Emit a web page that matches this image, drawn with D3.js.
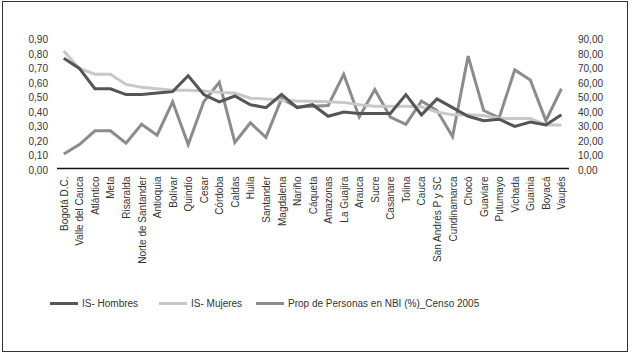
<!DOCTYPE html>
<html><head><meta charset="utf-8">
<script src="https://cdn.jsdelivr.net/npm/d3@7"></script>
<style>body{margin:0;background:#fff}svg{display:block;font-family:"Liberation Sans",Arial,sans-serif}</style>
</head><body><svg id="c" width="633" height="353"></svg>
<script>
const categories = ["Bogotá D.C.","Valle del Cauca","Atlántico","Meta","Risaralda","Norte de Santander","Antioquia","Bolívar","Quindío","Cesar","Córdoba","Caldas","Huila","Santander","Magdalena","Nariño","Cáqueta","Amazonas","La Guajira","Arauca","Sucre","Casanare","Tolina","Cauca","San Andrés P y SC","Cundinamarca","Chocó","Guaviare","Putumayo","Vichada","Guainia","Boyacá","Vaupés"];
const isHombres = [0.76,0.69,0.55,0.55,0.51,0.51,0.52,0.53,0.64,0.51,0.46,0.50,0.44,0.42,0.51,0.42,0.44,0.36,0.39,0.38,0.38,0.38,0.51,0.37,0.48,0.42,0.36,0.33,0.34,0.29,0.32,0.30,0.37];
const isMujeres = [0.81,0.69,0.65,0.65,0.58,0.56,0.55,0.54,0.54,0.535,0.525,0.52,0.485,0.48,0.47,0.465,0.463,0.46,0.456,0.44,0.43,0.43,0.43,0.426,0.39,0.37,0.37,0.365,0.345,0.345,0.345,0.30,0.30];
const nbi = [10,16.5,26,26,17.5,30.5,23,46,16.5,46,59.5,18,31.5,21.5,48,42.5,43,43.5,65,35.5,54.5,35.5,30.5,46.5,40,22,77.5,40,35,68,61,33,55];
const leftTicks = [0,0.1,0.2,0.3,0.4,0.5,0.6,0.7,0.8,0.9];
const rightTicks = [0,10,20,30,40,50,60,70,80,90];
const seriesNames = ["IS- Hombres","IS- Mujeres","Prop de Personas en NBI (%)_Censo 2005"];
const colors = ["#555555","#c8c8c8","#8c8c8c"];

const svg = d3.select("#c");
svg.append("rect").attr("x",2.5).attr("y",1.5).attr("width",625).attr("height",350)
  .attr("fill","none").attr("stroke","#333").attr("stroke-width",1);

const x = d3.scalePoint().domain(categories).range([63.8,561.4]);
const yL = d3.scaleLinear().domain([0,0.9]).range([168.5,38]);
const yR = d3.scaleLinear().domain([0,90]).range([168.5,38]);
const fmt2 = d3.format(".2f");
const comma = v => fmt2(v).replace(".",",");

// left axis labels
const gl = svg.append("g").attr("transform","translate(48,0)")
  .call(d3.axisLeft(yL).tickValues(leftTicks).tickFormat(comma).tickSize(0).tickPadding(0));
gl.select(".domain").remove();
gl.selectAll("text").attr("font-size",10).attr("fill","#333").attr("font-family","Liberation Sans, Arial, sans-serif").attr("dy","0.45em");

const gr = svg.append("g").attr("transform","translate(578,0)")
  .call(d3.axisRight(yR).tickValues(rightTicks).tickFormat(comma).tickSize(0).tickPadding(0));
gr.select(".domain").remove();
gr.selectAll("text").attr("font-size",10).attr("fill","#333").attr("font-family","Liberation Sans, Arial, sans-serif").attr("dy","0.45em");

// x axis
const gx = svg.append("g").attr("transform","translate(0,168.5)")
  .call(d3.axisBottom(x).tickSize(0).tickPadding(0));
gx.select(".domain").remove();
svg.append("line").attr("x1",57).attr("x2",569).attr("y1",168.5).attr("y2",168.5)
  .attr("stroke","#111").attr("stroke-width",1.5);
gx.selectAll("text").attr("font-size",10).attr("fill","#333")
  .attr("font-family","Liberation Sans, Arial, sans-serif")
  .attr("text-anchor","end").attr("transform","translate(0,8) rotate(-90)")
  .attr("dy","0.35em").attr("x",0).attr("y",0);

const lineL = d3.line().x((d,i)=>x(categories[i])).y(d=>yL(d));
const lineR = d3.line().x((d,i)=>x(categories[i])).y(d=>yR(d));
svg.append("path").attr("d",lineR(nbi)).attr("fill","none").attr("stroke",colors[2]).attr("stroke-width",3).attr("stroke-linejoin","miter");
svg.append("path").attr("d",lineL(isMujeres)).attr("fill","none").attr("stroke",colors[1]).attr("stroke-width",3);
svg.append("path").attr("d",lineL(isHombres)).attr("fill","none").attr("stroke",colors[0]).attr("stroke-width",3);

// legend
const legX = [50,159,256];
const lg = svg.append("g");
seriesNames.forEach((n,i)=>{
  lg.append("line").attr("x1",legX[i]).attr("x2",legX[i]+28).attr("y1",303.5).attr("y2",303.5)
    .attr("stroke",colors[i]).attr("stroke-width",3);
  lg.append("text").attr("x",legX[i]+32).attr("y",303.5).attr("dy","0.35em")
    .attr("font-size",10).attr("fill","#333").text(n);
});
</script></body></html>
